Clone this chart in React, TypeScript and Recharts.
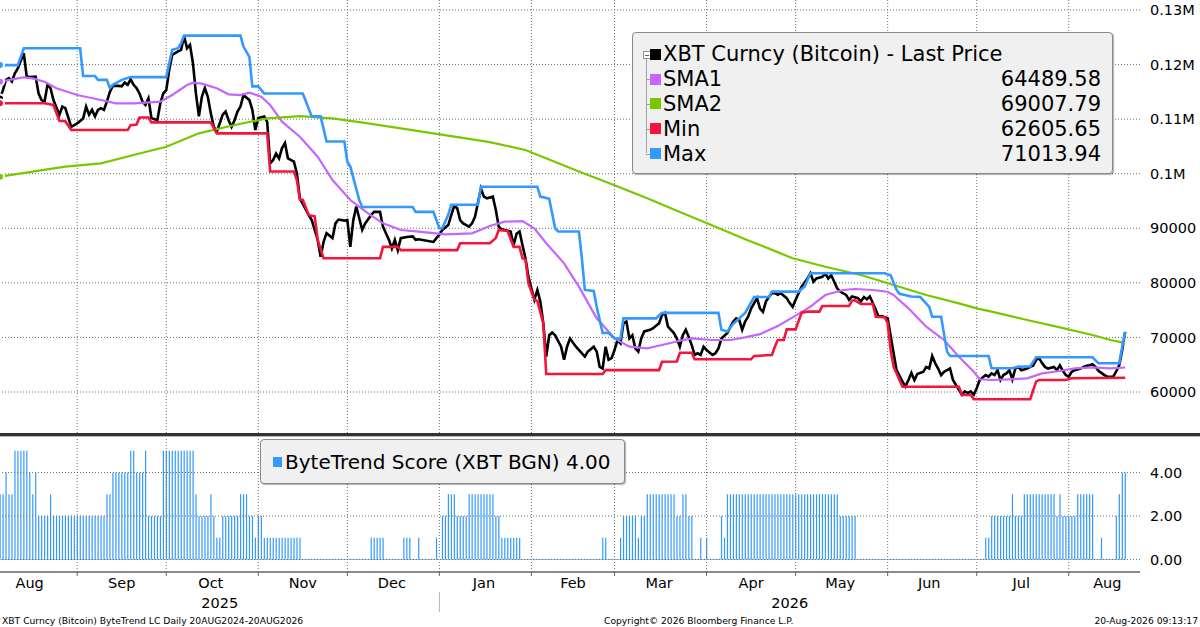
import React from 'react';
import {
  LineChart, Line, BarChart, Bar, XAxis, YAxis, ReferenceLine,
} from 'recharts';

// day index: 0 = 6 Aug 2025, 379 = 20 Aug 2026
const monthStarts = [26, 56, 87, 117, 148, 179, 207, 238, 268, 299, 329, 360];
const monthLabelDays = [10, 41, 71, 102, 132, 163, 193, 222, 253, 283, 313, 344, 373];
const monthLabels = ['Aug', 'Sep', 'Oct', 'Nov', 'Dec', 'Jan', 'Feb', 'Mar', 'Apr', 'May', 'Jun', 'Jul', 'Aug'];
const yearLabelDays = [74, 266];
const yearLabels = ['2025', '2026'];
const yearBreakDay = 148;

const priceTicks = [60000, 70000, 80000, 90000, 100000, 110000, 120000, 130000];
const scoreTicks = [0, 2, 4];

const price: [number, number][] = [
  [0, 113800], [1, 115300], [2, 117200], [3, 117500], [4, 116900], [5, 118400], [6, 119300], [8, 122100],
  [9, 117800], [10, 117700], [12, 117800], [13, 114700], [14, 113500], [15, 113200], [16, 116300], [17, 115700],
  [18, 113500], [20, 110800], [21, 112300], [22, 112000], [24, 108600], [25, 108900], [26, 109200], [28, 110100],
  [29, 112300], [30, 110800], [31, 111700], [32, 110500], [33, 111700], [34, 112000], [35, 111700], [36, 113200],
  [37, 115000], [38, 116100], [40, 116100], [41, 116000], [42, 116700], [43, 116300], [44, 117300], [45, 116300],
  [46, 115700], [47, 114700], [48, 113200], [49, 112600], [50, 113800], [51, 110200], [53, 109800], [54, 112900],
  [55, 114700], [56, 115300], [57, 119000], [58, 121800], [60, 122400], [61, 122700], [62, 125200], [63, 123000],
  [64, 123600], [65, 120200], [66, 114700], [67, 110500], [68, 114100], [69, 115700], [70, 114100], [71, 111100],
  [72, 108600], [73, 107700], [74, 109200], [75, 110800], [76, 111400], [77, 109800], [78, 108600], [79, 109800],
  [80, 111400], [81, 112300], [82, 114400], [84, 113500], [85, 111700], [86, 108000], [87, 110200], [89, 110500],
  [90, 109500], [91, 101900], [92, 102500], [93, 103700], [94, 102800], [95, 104700], [96, 105600], [97, 102800],
  [99, 102200], [100, 100100], [101, 95500], [104, 92400], [105, 91500], [107, 87900], [108, 84800], [109, 87500],
  [110, 89100], [112, 88200], [113, 90900], [114, 91600], [116, 91400], [117, 91500], [118, 86600], [119, 91500],
  [120, 94000], [122, 89700], [123, 90900], [125, 92400], [126, 93000], [128, 93000], [129, 90300], [130, 89100],
  [131, 87900], [132, 86300], [133, 87900], [134, 86000], [135, 88200], [137, 88400], [139, 88500], [140, 87900],
  [141, 88000], [146, 87500], [147, 88200], [148, 88800], [149, 89700], [151, 90600], [152, 92400], [153, 94100],
  [154, 93700], [155, 91500], [156, 90900], [158, 90300], [159, 90900], [160, 92100], [162, 97300], [163, 95800],
  [164, 95500], [166, 95800], [167, 93400], [168, 90300], [169, 89800], [172, 89400], [173, 86900], [174, 89000],
  [175, 89400], [176, 86900], [177, 84500], [178, 81100], [180, 76900], [181, 78700], [182, 76600], [183, 72600],
  [184, 66500], [185, 70400], [186, 70900], [187, 70400], [189, 68300], [190, 65900], [191, 68300], [192, 69800],
  [194, 68300], [197, 66500], [198, 67400], [200, 68300], [201, 67400], [202, 64600], [203, 64300], [204, 68300],
  [205, 65900], [206, 66200], [207, 67700], [208, 69500], [209, 68900], [210, 72600], [211, 72900], [212, 69800],
  [213, 70400], [214, 68000], [215, 67400], [216, 69800], [217, 71100], [219, 71400], [220, 71700], [222, 72600],
  [223, 74100], [224, 74500], [225, 72000], [226, 71400], [227, 70800], [228, 69800], [229, 68300], [230, 70400],
  [231, 71400], [232, 70100], [233, 68600], [234, 66800], [235, 67100], [236, 66800], [237, 68300], [238, 67700],
  [240, 66800], [241, 67100], [242, 68000], [243, 69800], [245, 70800], [246, 71900], [247, 72900], [248, 73500],
  [249, 73200], [250, 71400], [251, 72900], [252, 73800], [253, 75300], [255, 77200], [256, 75300], [257, 74700],
  [258, 76600], [259, 77400], [260, 78100], [261, 78100], [262, 77800], [263, 78100], [265, 77200], [266, 76300],
  [267, 75600], [268, 76900], [269, 78100], [270, 79300], [272, 80800], [273, 81750], [274, 80200], [275, 80800],
  [277, 81100], [278, 81700], [279, 80800], [280, 81400], [281, 80200], [282, 79000], [283, 78400], [285, 77800],
  [286, 76900], [287, 77500], [289, 77200], [290, 76600], [291, 77400], [292, 77000], [293, 77500], [294, 76300],
  [296, 73800], [297, 73900], [299, 73500], [301, 67100], [302, 64000], [304, 61900], [305, 61000], [306, 62200],
  [307, 63500], [308, 62200], [309, 63300], [311, 63700], [312, 64600], [313, 64300], [314, 66600], [315, 65300],
  [316, 64300], [317, 63100], [318, 63700], [319, 64000], [320, 64300], [321, 62200], [323, 60400], [324, 59500],
  [325, 60100], [326, 59800], [327, 60100], [328, 59500], [329, 60700], [330, 62200], [332, 63100], [333, 62800],
  [334, 63400], [335, 63100], [336, 64000], [337, 62200], [338, 63100], [339, 63400], [340, 64000], [341, 62300],
  [342, 64300], [343, 64600], [344, 64000], [346, 64300], [347, 64600], [348, 64800], [349, 65900], [350, 66200],
  [351, 65300], [352, 64600], [353, 64300], [355, 64600], [356, 64000], [357, 64900], [358, 63900], [359, 63100],
  [360, 62800], [361, 63700], [362, 64000], [364, 64300], [365, 64600], [366, 64800], [367, 64900], [368, 65100],
  [369, 64600], [370, 63900], [371, 63500], [372, 63100], [373, 62800], [375, 62800], [376, 63800], [377, 64900],
  [378, 67700], [379, 71013.94],
];

const sma1: [number, number][] = [
  [0, 116860], [6, 117480], [8, 117670], [11, 117480], [15, 116860], [19, 115650], [26, 114420], [34, 113510],
  [39, 112900], [45, 112900], [49, 113010], [54, 113200], [58, 114420], [63, 116250], [65, 116680], [68, 116500],
  [73, 115650], [77, 114550], [81, 114420], [84, 114850], [88, 114110], [91, 112590], [95, 109530], [101, 106780],
  [107, 103120], [112, 98850], [118, 95180], [124, 92740], [129, 90900], [135, 89690], [141, 89380], [150, 88900],
  [159, 89070], [165, 90420], [170, 91210], [176, 91330], [180, 90000], [184, 87250], [190, 83580], [195, 79300],
  [201, 73500], [207, 69830], [212, 68300], [218, 68000], [223, 68610], [229, 69400], [233, 69830], [240, 69530],
  [246, 69530], [251, 70020], [256, 70600], [262, 72100], [267, 73680], [273, 75630], [278, 77770], [284, 78690],
  [288, 78870], [294, 78690], [299, 78380], [301, 77770], [306, 75330], [312, 71970], [318, 69530], [323, 66470],
  [328, 63720], [330, 62330], [334, 62200], [340, 62330], [346, 62510], [351, 63420], [357, 63850], [362, 64340],
  [368, 64520], [374, 64340], [379, 64489.58],
];

const sma2: [number, number][] = [
  [0, 99450], [11, 100370], [22, 101300], [34, 101900], [45, 103430], [56, 104950], [67, 107400], [79, 108930],
  [90, 110150], [101, 110570], [112, 110150], [124, 109240], [135, 108320], [152, 106900], [165, 105800],
  [177, 104350], [195, 100400], [207, 97900], [218, 95500], [229, 93000], [240, 90500], [251, 88000], [256, 86940],
  [267, 84500], [278, 82960], [290, 81440], [301, 79600], [312, 77770], [323, 76250], [329, 75330], [334, 74720],
  [346, 73190], [357, 71850], [368, 70440], [374, 69530], [379, 69007.79],
];

const minLine: [number, number][] = [
  [0, 112900], [15, 112900], [18, 112600], [20, 109700], [22, 109600], [24, 108000], [43, 108000], [44, 108900],
  [46, 109000], [47, 110300], [50, 110300], [51, 109400], [71, 109400], [73, 107400], [90, 107400], [91, 100400],
  [99, 100400], [100, 98850], [101, 95300], [102, 95200], [104, 92400], [106, 92200], [107, 87850], [109, 84500],
  [128, 84500], [129, 86600], [134, 86600], [135, 86000], [154, 86000], [155, 87250], [165, 87250], [167, 88200],
  [168, 89700], [171, 89500], [173, 86600], [175, 86600], [176, 84500], [177, 84300], [178, 79900], [180, 76860],
  [181, 76700], [183, 72590], [184, 63300], [203, 63300], [204, 64000], [222, 64000], [223, 65550], [228, 65600],
  [229, 67200], [233, 67200], [234, 66000], [253, 66000], [254, 66600], [260, 66780], [261, 68300], [262, 69530],
  [264, 69530], [265, 71480], [268, 71480], [270, 74530], [272, 74720], [276, 74720], [277, 75760], [286, 75760],
  [287, 76730], [288, 76800], [290, 76120], [294, 76120], [295, 73800], [298, 73700], [299, 72600], [300, 67700],
  [301, 64640], [304, 60970], [323, 60970], [324, 59450], [327, 59450], [328, 58660], [347, 58660], [349, 61890],
  [350, 62200], [359, 62200], [361, 62510], [379, 62605.65],
];

const maxLine: [number, number][] = [
  [0, 119900], [6, 119900], [8, 123000], [27, 123000], [28, 117900], [32, 117900], [33, 117200], [36, 117200],
  [37, 115700], [38, 116300], [41, 117200], [44, 117700], [56, 117700], [57, 120200], [58, 122700], [60, 123000],
  [61, 123900], [62, 125300], [81, 125300], [82, 123300], [84, 121400], [85, 116000], [87, 116000], [89, 114700],
  [102, 114700], [105, 110500], [108, 110500], [110, 105900], [116, 105900], [117, 102200], [118, 101300],
  [121, 95200], [122, 93900], [139, 93900], [140, 93000], [146, 93000], [148, 90000], [149, 90000], [151, 92500],
  [152, 94300], [161, 94300], [162, 97600], [181, 97600], [182, 95800], [185, 95400], [187, 90000], [188, 89400],
  [195, 89400], [196, 84500], [197, 78700], [200, 78500], [201, 75600], [203, 70800], [205, 70800], [207, 69800],
  [209, 69800], [210, 73500], [221, 73500], [223, 74500], [242, 74500], [243, 71400], [245, 71100], [247, 72500],
  [251, 74500], [254, 77400], [259, 77400], [260, 78400], [269, 78400], [271, 79300], [273, 81750], [298, 81750],
  [300, 81400], [302, 78700], [303, 78000], [307, 77500], [310, 77400], [313, 75600], [314, 73800], [317, 73800],
  [319, 67400], [320, 66600], [333, 66600], [334, 64340], [341, 64340], [343, 64640], [347, 64700], [349, 66360],
  [368, 66360], [370, 65260], [377, 65260], [378, 68300], [379, 71013.94],
];

// ByteTrend score, run-length: [score, number of days]
const scoreRuns: [number, number][] = [
  [3, 2], [4, 1], [3, 2], [5, 5], [4, 1], [3, 1], [4, 1], [2, 4], [3, 1], [2, 18],
  [3, 2], [4, 6], [5, 2], [4, 3], [5, 1], [2, 5], [5, 11], [3, 1], [2, 4], [3, 1],
  [2, 1], [1, 2], [2, 6], [3, 3], [2, 2], [1, 1], [2, 2], [1, 13], [0, 23], [1, 5],
  [0, 6], [1, 3], [0, 2], [1, 1], [0, 5], [1, 1], [0, 1], [2, 2], [3, 3], [2, 4],
  [3, 9], [2, 2], [1, 7], [0, 27], [1, 2], [0, 4], [1, 1], [2, 5], [1, 1], [2, 2],
  [3, 10], [2, 2], [3, 2], [2, 2], [0, 2], [1, 1], [0, 1], [1, 1], [0, 4], [2, 1],
  [1, 1], [3, 38], [2, 6], [0, 43], [1, 2], [2, 7], [3, 1], [2, 3], [3, 11], [2, 1],
  [3, 1], [2, 5], [3, 6], [0, 2], [1, 1], [0, 4], [2, 1], [3, 1], [4, 2],
];

const FONT = '"DejaVu Sans", Verdana, sans-serif';
const C_PRICE = '#000000';
const C_SMA1 = '#c466ff';
const C_SMA2 = '#78c800';
const C_MIN = '#f5143c';
const C_MAX = '#3399ff';
const C_BAR = '#3399ff';
const GRID = '#707070';

const toPts = (arr: [number, number][]) => arr.map(([d, v]) => ({ d, v }));

const scoreData: { d: number; v: number }[] = [];
scoreRuns.forEach(([v, n]) => {
  for (let k = 0; k < n; k++) scoreData.push({ d: scoreData.length, v });
});

const last = (arr: [number, number][]) => arr[arr.length - 1][1];

const fmtPrice = (v: number) => (v >= 100000 ? `${v / 1000000}M` : String(v));

// dotted grid drawn as reference lines at the month starts and the value ticks
const gridLines = (yTicks: number[]) => [
  ...monthStarts.map((d) => (
    <ReferenceLine key={`gx${d}`} x={d} stroke={GRID} strokeDasharray="1 2" strokeWidth={1} />
  )),
  ...yTicks.map((t) => (
    <ReferenceLine key={`gy${t}`} y={t} stroke={GRID} strokeDasharray="1 2" strokeWidth={1} />
  )),
];

function YearTick(props: any) {
  const { x, y, payload } = props;
  if (payload.value === yearBreakDay) {
    return <line x1={x} x2={x} y1={y - 4} y2={y + 16} stroke="#b4b4b4" strokeWidth={1} />;
  }
  const i = yearLabelDays.indexOf(payload.value);
  return (
    <text x={x} y={y + 2} dy="0.71em" textAnchor="middle" fontSize={14.5} fontFamily={FONT} fill="#000">
      {yearLabels[i]}
    </text>
  );
}

const legendRows = [
  { name: 'XBT Curncy (Bitcoin) - Last Price', color: C_PRICE, value: '' },
  { name: 'SMA1', color: C_SMA1, value: last(sma1).toFixed(2) },
  { name: 'SMA2', color: C_SMA2, value: last(sma2).toFixed(2) },
  { name: 'Min', color: C_MIN, value: last(minLine).toFixed(2) },
  { name: 'Max', color: C_MAX, value: last(maxLine).toFixed(2) },
];

function PriceLegend() {
  const rowH = 24.8;
  const firstCenter = 21.3;
  return (
    <div style={{
      position: 'absolute', left: 632, top: 32, width: 479, height: 140,
      background: '#f0f0f0', border: '1px solid #8a8a8a', borderRadius: 4,
      boxShadow: '1px 1px 1px rgba(0,0,0,0.3)', fontFamily: FONT, fontSize: 21, color: '#000',
    }}>
      {/* tree connector */}
      <div style={{
        position: 'absolute', left: 13, top: firstCenter, width: 1,
        height: rowH * 4, background: '#a0a0a0',
      }} />
      <div style={{
        position: 'absolute', left: 10, top: firstCenter - 3.5, width: 6, height: 6,
        border: '1px solid #909090', background: '#fff',
      }}>
        <div style={{ position: 'absolute', left: 1, top: 3, width: 4, height: 1, background: '#606060' }} />
      </div>
      {legendRows.map((r, i) => {
        const cy = firstCenter + i * rowH;
        return (
          <React.Fragment key={r.name}>
            {i > 0 && (
              <div style={{ position: 'absolute', left: 13, top: cy, width: 4, height: 1, background: '#a0a0a0' }} />
            )}
            <div style={{
              position: 'absolute', left: 17, top: cy - 5.5, width: 11, height: 11, background: r.color,
            }} />
            <div style={{
              position: 'absolute', left: 30, top: cy - 13, height: 26, lineHeight: '26px', whiteSpace: 'nowrap',
            }}>{r.name}</div>
            {r.value && (
              <div style={{
                position: 'absolute', right: 11, top: cy - 13, height: 26, lineHeight: '26px',
              }}>{r.value}</div>
            )}
          </React.Fragment>
        );
      })}
    </div>
  );
}

function ScoreLegend() {
  return (
    <div style={{
      position: 'absolute', left: 260, top: 439, width: 363, height: 43,
      background: '#f0f0f0', border: '1px solid #8a8a8a', borderRadius: 4,
      boxShadow: '1px 1px 1px rgba(0,0,0,0.3)', fontFamily: FONT, fontSize: 20, color: '#000',
    }}>
      <div style={{ position: 'absolute', left: 12, top: 17, width: 9, height: 10, background: C_BAR }} />
      <div style={{ position: 'absolute', left: 24, top: 9, height: 26, lineHeight: '26px', whiteSpace: 'nowrap' }}>
        {`ByteTrend Score (XBT BGN) ${scoreData[scoreData.length - 1].v.toFixed(2)}`}
      </div>
    </div>
  );
}

export default function App() {
  const axisTick = { fontSize: 14.5, fill: '#000', fontFamily: FONT };
  return (
    <div style={{ position: 'absolute', left: 0, top: 0, width: 1200, height: 627, background: '#fff', overflow: 'hidden' }}>
      <div style={{ position: 'absolute', left: 0, top: 0 }}>
        <LineChart width={1200} height={433} margin={{ top: 0, right: 0, bottom: 0, left: 0 }}>
          <XAxis
            type="number" dataKey="d" domain={[0, 384]} ticks={monthStarts}
            height={0} tick={false} axisLine={false} tickLine={false} allowDataOverflow
          />
          <YAxis
            orientation="right" width={60} domain={[52487, 131832]} ticks={priceTicks}
            tickFormatter={fmtPrice} axisLine={false} tickLine={false} tickMargin={4}
            tick={axisTick} allowDataOverflow interval={0}
          />
          {gridLines(priceTicks)}
          <Line data={toPts(price)} dataKey="v" stroke={C_PRICE} strokeWidth={2.6} dot={false} isAnimationActive={false} />
          <Line data={toPts(sma1)} dataKey="v" stroke={C_SMA1} strokeWidth={2.2} dot={false} isAnimationActive={false} />
          <Line data={toPts(sma2)} dataKey="v" stroke={C_SMA2} strokeWidth={2.2} dot={false} isAnimationActive={false} />
          <Line data={toPts(minLine)} dataKey="v" stroke={C_MIN} strokeWidth={2.6} dot={false} isAnimationActive={false} />
          <Line data={toPts(maxLine)} dataKey="v" stroke={C_MAX} strokeWidth={2.6} dot={false} isAnimationActive={false} />
        </LineChart>
      </div>

      <div style={{ position: 'absolute', left: 0, top: 433, width: 1200, height: 3, background: '#333' }} />
      <div style={{ position: 'absolute', left: 0, top: 436, width: 1200, height: 1, background: '#b8b8b8' }} />

      <div style={{ position: 'absolute', left: 0, top: 437 }}>
        <BarChart width={1200} height={190} data={scoreData} margin={{ top: 0, right: 0, bottom: 0, left: 0 }}>
          <XAxis
            type="number" dataKey="d" domain={[0, 384]} ticks={monthStarts} interval={0}
            height={4} tickSize={4} tickFormatter={() => ''}
            axisLine={{ stroke: '#666', strokeWidth: 1.5 }} tickLine={{ stroke: '#666' }} allowDataOverflow
          />
          <XAxis
            xAxisId="lab" type="number" dataKey="d" domain={[0, 384]} ticks={monthLabelDays} interval={0}
            height={20} tickSize={0} tickMargin={2} axisLine={false} tickLine={false}
            tickFormatter={(_v: number, i: number) => monthLabels[i]} tick={axisTick} allowDataOverflow
          />
          <XAxis
            xAxisId="yr" type="number" dataKey="d" domain={[0, 384]}
            ticks={[yearLabelDays[0], yearBreakDay, yearLabelDays[1]]} interval={0}
            height={31} tickSize={0} tickMargin={0} axisLine={false} tickLine={false}
            tick={<YearTick />} allowDataOverflow
          />
          <YAxis
            orientation="right" width={60} domain={[-0.575, 5.632]} ticks={scoreTicks}
            tickFormatter={(v: number) => v.toFixed(2)} axisLine={false} tickLine={false} tickMargin={4}
            tick={axisTick} allowDataOverflow interval={0}
          />
          {gridLines(scoreTicks)}
          <ReferenceLine
            segment={[{ x: 0, y: 0 }, { x: 379, y: 0 }]}
            stroke="#8cc2f7" strokeWidth={1.2} strokeDasharray="2 1"
          />
          <Bar dataKey="v" fill={C_BAR} barSize={1.2} isAnimationActive={false} />
        </BarChart>
      </div>

      <ScoreLegend />
      <PriceLegend />

      <div style={{ position: 'absolute', left: 2, top: 614, fontFamily: FONT, fontSize: 9.2, lineHeight: '13px', whiteSpace: 'nowrap' }}>
        XBT Curncy (Bitcoin) ByteTrend LC Daily 20AUG2024-20AUG2026
      </div>
      <div style={{ position: 'absolute', left: 604, top: 614, fontFamily: FONT, fontSize: 9.2, lineHeight: '13px', whiteSpace: 'nowrap' }}>
        Copyright© 2026 Bloomberg Finance L.P.
      </div>
      <div style={{ position: 'absolute', right: 2, top: 614, fontFamily: FONT, fontSize: 9.2, lineHeight: '13px', whiteSpace: 'nowrap' }}>
        20-Aug-2026 09:13:17
      </div>
    </div>
  );
}
